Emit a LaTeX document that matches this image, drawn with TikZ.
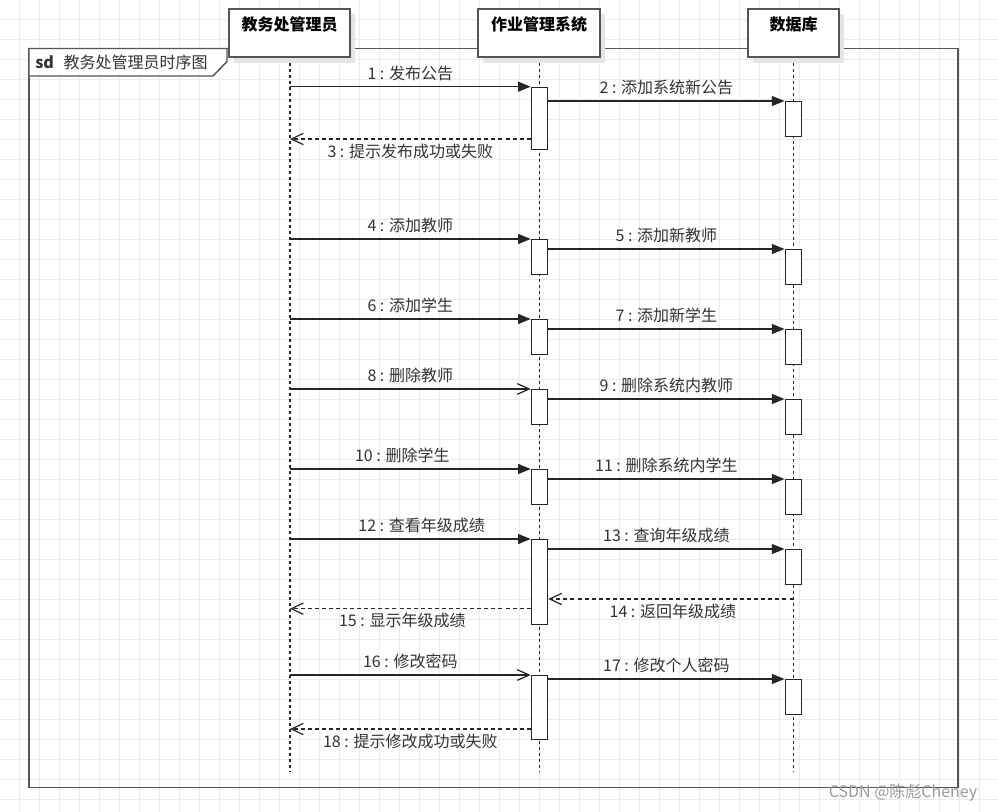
\documentclass[tikz,border=0pt]{standalone}
\usepackage{fontspec}
\setmainfont{Noto Sans CJK SC}
\usetikzlibrary{arrows.meta,calc}
\definecolor{gridc}{HTML}{EBEBEB}
\definecolor{ink}{HTML}{262626}
\definecolor{txt}{HTML}{333333}
\definecolor{framec}{HTML}{555555}
\definecolor{shadowc}{HTML}{E4E4E4}
\definecolor{markc}{HTML}{9A9A9A}
\newcommand\actbox[4]{\node[actbox,minimum height={(#4-#3)*0.75pt}] (#1) at (#2,#3) {};}
\begin{document}
\begin{tikzpicture}[x=0.75pt,y=-0.75pt,
  every node/.style={font=\fontsize{12pt}{14pt}\selectfont, text=txt},
  hdr/.style={draw=framec, line width=1.1pt, fill=white, minimum height=36pt, inner sep=0pt},
  hdrtxt/.style={font=\fontsize{12pt}{14pt}\selectfont\bfseries, text=black},
  actbox/.style={draw=ink, line width=0.9pt, fill=white, anchor=north, minimum width=12.3pt, inner sep=0pt},
  life/.style={draw=ink, line width=0.8pt, dash pattern=on 2.3pt off 2.2pt},
  msg/.style={draw=ink, line width=0.9pt, -{Triangle[length=9.5pt,width=7.5pt]}},
  amsg/.style={draw=ink, line width=0.9pt, -{Straight Barb[length=9pt,width=8pt]}},
  ret/.style={draw=ink, line width=0.9pt, dash pattern=on 3pt off 2.3pt, -{Straight Barb[length=9pt,width=8.5pt]}},
  up/.style={midway, yshift=10pt},
  dn/.style={midway, yshift=-9pt}]
\useasboundingbox (0,0) rectangle (998,812);
\fill[white] (0,0) rectangle (998,812);
\foreach \i in {0,...,49} {\draw[gridc, line width=0.75pt] (19.5+20*\i,0) -- (19.5+20*\i,812);}
\foreach \j in {0,...,40} {\draw[gridc, line width=0.75pt] (0,19.3+20*\j) -- (998,19.3+20*\j);}
% frame
\draw[framec, line width=1.3pt] (29,48.5) rectangle (958,787.5);
\draw[framec, line width=1.1pt, fill=white] (29,48.5) -- (227,48.5) -- (227,61.5) -- (213,76) -- (29,76) -- cycle;
\node[anchor=west, inner sep=0pt] (sdtag) at (35,62) {\textbf{sd}\hspace{0.6em}教务处管理员时序图};
% lifelines
\coordinate (h1) at (290,57);
\coordinate (h2) at (539.5,57);
\coordinate (h3) at (793.5,57);
\coordinate (e1) at (290,772);
\coordinate (e2) at (539.5,772);
\coordinate (e3) at (793.5,772);
\draw[life] (h1) -- (e1);
\draw[life] (h2) -- (e2);
\draw[life] (h3) -- (e3);
% headers with shadows
\fill[shadowc] (234,14) rectangle (355,63);
\fill[shadowc] (483,14) rectangle (605,63);
\fill[shadowc] (753,14) rectangle (844,63);
\node[hdr, minimum width=90.75pt] (P1) at (289.5,33) {};
\node[hdr, minimum width=91.5pt] (P2) at (539,33) {};
\node[hdr, minimum width=68.25pt] (P3) at (793.5,33) {};
\node[hdrtxt] (P1t) at (289.5,24.5) {教务处管理员};
\node[hdrtxt] (P2t) at (539,24.5) {作业管理系统};
\node[hdrtxt] (P3t) at (793.5,24.5) {数据库};
% activations
\actbox{A1}{539.5}{86.7}{149}
\actbox{A2}{539.5}{239}{274}
\actbox{A3}{539.5}{319}{354}
\actbox{A4}{539.5}{389}{424}
\actbox{A5}{539.5}{469}{504}
\actbox{A6}{539.5}{539}{624}
\actbox{A7}{539.5}{675}{739}
\actbox{B1}{793.3}{101}{136}
\actbox{B2}{793.3}{249}{284}
\actbox{B3}{793.3}{329}{364}
\actbox{B4}{793.3}{399}{434}
\actbox{B5}{793.3}{479}{514}
\actbox{B6}{793.3}{549}{584}
\actbox{B7}{793.3}{679}{714}
% return levels
\coordinate (y3) at (0,139);
\coordinate (y14) at (0,599);
\coordinate (y15) at (0,608.7);
\coordinate (y18) at (0,729);
% messages
\draw[msg] (h1 |- A1.north) -- (A1.north west) node[up] {1 : 发布公告};
\draw[msg] (A1.east |- B1.north) -- (B1.north west) node[up] {2 : 添加系统新公告};
\draw[ret] (A1.west |- y3) -- (h1 |- y3) node[dn] {3 : 提示发布成功或失败};
\draw[msg] (h1 |- A2.north) -- (A2.north west) node[up] {4 : 添加教师};
\draw[msg] (A2.east |- B2.north) -- (B2.north west) node[up] {5 : 添加新教师};
\draw[msg] (h1 |- A3.north) -- (A3.north west) node[up] {6 : 添加学生};
\draw[msg] (A3.east |- B3.north) -- (B3.north west) node[up] {7 : 添加新学生};
\draw[amsg] (h1 |- A4.north) -- (A4.north west) node[up] {8 : 删除教师};
\draw[msg] (A4.east |- B4.north) -- (B4.north west) node[up] {9 : 删除系统内教师};
\draw[msg] (h1 |- A5.north) -- (A5.north west) node[up, xshift=-6pt] {10 : 删除学生};
\draw[msg] (A5.east |- B5.north) -- (B5.north west) node[up] {11 : 删除系统内学生};
\draw[msg] (h1 |- A6.north) -- (A6.north west) node[up, xshift=8.5pt] {12 : 查看年级成绩};
\draw[msg] (A6.east |- B6.north) -- (B6.north west) node[up] {13 : 查询年级成绩};
\draw[ret] (h3 |- y14) -- (A6.east |- y14) node[dn, xshift=1.5pt] {14 : 返回年级成绩};
\draw[ret] (A6.west |- y15) -- (h1 |- y15) node[dn, xshift=-6pt] {15 : 显示年级成绩};
\draw[amsg] (h1 |- A7.north) -- (A7.north west) node[up] {16 : 修改密码};
\draw[msg] (A7.east |- B7.north) -- (B7.north west) node[up] {17 : 修改个人密码};
\draw[ret] (A7.west |- y18) -- (h1 |- y18) node[dn] {18 : 提示修改成功或失败};
% watermark
\node[text=markc, anchor=center] (wm) at (903,793) {CSDN @陈彪Cheney};
\end{tikzpicture}
\end{document}
